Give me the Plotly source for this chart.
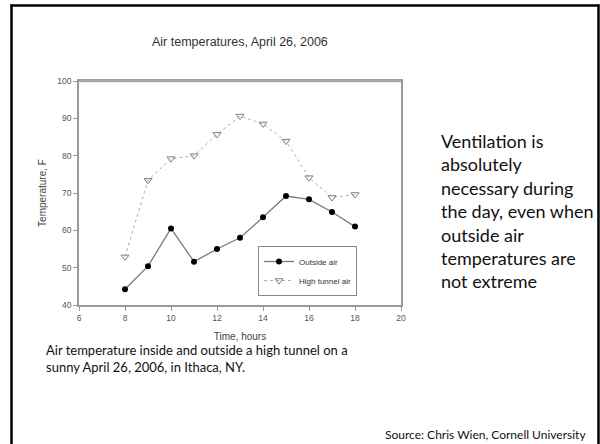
import plotly.graph_objects as go

hours = [8, 9, 10, 11, 12, 13, 14, 15, 16, 17, 18]
outside_air = [44.2, 50.4, 60.5, 51.6, 55.0, 58.0, 63.5, 69.2, 68.3, 64.9, 61.0]
tunnel_air = [52.9, 73.4, 79.2, 80.0, 85.7, 90.6, 88.5, 83.9, 74.1, 68.8, 69.6]
x_ticks = [6, 8, 10, 12, 14, 16, 18, 20]
y_ticks = [40, 50, 60, 70, 80, 90, 100]

W, H = 600, 444
L, R, T, B = 79, 401, 81, 305


def px(x):
    return (x - L) / (R - L)


def py(y):
    return (B - y) / (B - T)


fig = go.Figure()
fig.add_trace(go.Scatter(
    x=hours, y=outside_air, name="Outside air", mode="lines+markers",
    line=dict(color="#7a7a7a", width=1.3),
    marker=dict(symbol="circle", size=6, color="#000000"),
))
fig.add_trace(go.Scatter(
    x=hours, y=tunnel_air, name="High tunnel air", mode="lines+markers",
    line=dict(color="#b0b0b0", width=1, dash="dot"),
    marker=dict(symbol="triangle-down-open", size=7, color="#808080",
                line=dict(width=1, color="#808080")),
))

axis_font = dict(family="Liberation Sans, Arial, sans-serif", size=8.5, color="#555555")
title_font = dict(family="Liberation Sans, Arial, sans-serif", size=10, color="#444444")
fig.update_xaxes(
    range=[6, 20], tickvals=x_ticks, ticks="outside", ticklen=4, tickcolor="#999999",
    showline=True, linecolor="#999999", linewidth=1.5, mirror=True, showgrid=False,
    zeroline=False, tickfont=axis_font,
    title=dict(text="Time, hours", font=title_font, standoff=11),
)
fig.update_yaxes(
    range=[40, 100], tickvals=y_ticks, ticks="outside", ticklen=4, tickcolor="#999999",
    showline=True, linecolor="#999999", linewidth=1.5, mirror=True, showgrid=False,
    zeroline=False, tickfont=axis_font,
    title=dict(text="Temperature, F", font=title_font, standoff=9),
)

# heavier top frame line
fig.add_shape(type="line", xref="paper", yref="paper", x0=0, x1=1, y0=1, y1=1,
              line=dict(color="#aaaaaa", width=2.5))

# slide border
fig.add_shape(type="line", xref="paper", yref="paper", x0=px(11.5), x1=px(11.5), y0=py(4.5), y1=py(460),
              line=dict(color="#000000", width=2.5))
fig.add_shape(type="line", xref="paper", yref="paper", x0=px(10.5), x1=px(599.5), y0=py(5.5), y1=py(5.5),
              line=dict(color="#000000", width=2.5))
fig.add_shape(type="line", xref="paper", yref="paper", x0=px(598.5), x1=px(598.5), y0=py(4.5), y1=py(460),
              line=dict(color="#000000", width=2.5))

fig.add_annotation(xref="paper", yref="paper", x=px(240), y=py(42), text="Air temperatures, April 26, 2006",
                   showarrow=False, xanchor="center", yanchor="middle",
                   font=dict(family="Liberation Sans, Arial, sans-serif", size=12.5, color="#333333"))

side_text = "Ventilation is<br>absolutely<br>necessary during<br>the day, even when<br>outside air<br>temperatures are<br>not extreme"
fig.add_annotation(xref="paper", yref="paper", x=px(439), y=py(128), text=side_text, showarrow=False,
                   xanchor="left", yanchor="top", align="left",
                   font=dict(family="Lato, Carlito, sans-serif", size=18, color="#111111"))

caption = "Air temperature inside and outside a high tunnel on a<br>sunny April 26, 2006, in Ithaca, NY."
fig.add_annotation(xref="paper", yref="paper", x=px(44), y=py(340), text=caption, showarrow=False,
                   xanchor="left", yanchor="top", align="left",
                   font=dict(family="Lato, Carlito, sans-serif", size=13, color="#111111"))

fig.add_annotation(xref="paper", yref="paper", x=px(588), y=py(434), text="Source: Chris Wien, Cornell University",
                   showarrow=False, xanchor="right", yanchor="middle",
                   font=dict(family="Lato, Carlito, sans-serif", size=12, color="#111111"))

fig.update_layout(
    width=W, height=H, margin=dict(l=L, r=W - R, t=T, b=H - B),
    paper_bgcolor="white", plot_bgcolor="white", showlegend=True,
    legend=dict(x=px(258), y=py(246), xanchor="left", yanchor="top",
                bgcolor="white", bordercolor="#888888", borderwidth=1,
                font=dict(family="Liberation Sans, Arial, sans-serif", size=8, color="#333333"),
                itemwidth=30, tracegroupgap=0),
)

fig.write_html("out.html", config={"displayModeBar": False},
               post_script="document.body.style.margin='0';document.body.style.overflow='hidden';")
